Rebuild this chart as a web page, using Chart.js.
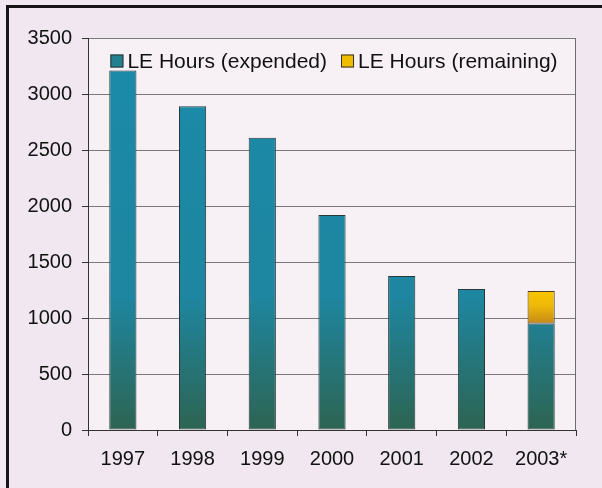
<!DOCTYPE html>
<html>
<head>
<meta charset="utf-8">
<script src="https://cdn.jsdelivr.net/npm/chart.js@4/dist/chart.umd.min.js"></script>
<style>
  html, body { margin: 0; padding: 0; background: #f1e7f1; }
  #wrap { width: 602px; height: 488px; position: relative; }
</style>
</head>
<body>
<div id="wrap"><canvas id="c" width="602" height="488"></canvas></div>
<script>
// ---- data ----
const categories = ['1997', '1998', '1999', '2000', '2001', '2002', '2003*'];
const expended = [3210, 2890, 2610, 1920, 1375, 1260, 950];
const remaining = [null, null, null, null, null, null, 290];
const seriesNames = ['LE Hours (expended)', 'LE Hours (remaining)'];
const yMin = 0, yMax = 3500, yStep = 500;

const FONT = '"Liberation Sans", Arial, sans-serif';

function expendedFill(ctx) {
  const chart = ctx.chart;
  const a = chart.chartArea;
  if (!a) return '#1d88a4';
  const g = chart.ctx.createLinearGradient(0, a.top, 0, a.bottom);
  g.addColorStop(0, '#1a8aaa');
  g.addColorStop(0.66, '#1e86a0');
  g.addColorStop(1, '#2d6452');
  return g;
}

function remainingFill(ctx) {
  const chart = ctx.chart;
  const ys = chart.scales && chart.scales.y;
  const i = ctx.dataIndex;
  if (!chart.chartArea || !ys || i === undefined || remaining[i] == null) return '#f0bc00';
  const top = ys.getPixelForValue(expended[i] + remaining[i]);
  const bot = ys.getPixelForValue(expended[i]);
  const g = chart.ctx.createLinearGradient(0, top, 0, bot);
  g.addColorStop(0, '#f8c600');
  g.addColorStop(0.45, '#eeb808');
  g.addColorStop(1, '#c48a18');
  return g;
}

const bgPlugin = {
  id: 'bg',
  beforeDraw(chart) {
    const c = chart.ctx, a = chart.chartArea;
    c.save();
    c.fillStyle = '#f1e7f1';
    c.fillRect(0, 0, chart.width, chart.height);
    c.fillStyle = '#f7f1f5';
    c.fillRect(a.left, a.top, a.right - a.left, a.bottom - a.top);
    // outer frame (top and left edges visible in the scan)
    c.fillStyle = '#151515';
    c.fillRect(6, 5, chart.width - 6, 3);
    c.fillRect(6, 5, 3, chart.height - 5);
    c.restore();
  },
  beforeDatasetsDraw(chart) {
    const c = chart.ctx, a = chart.chartArea;
    c.save();
    c.strokeStyle = '#6e6e6e';
    c.lineWidth = 1;
    c.beginPath();
    c.moveTo(Math.round(a.right) - 0.5, a.top);
    c.lineTo(Math.round(a.right) - 0.5, a.bottom);
    c.stroke();
    c.restore();
  }
};

const legendPlugin = {
  id: 'insideLegend',
  afterDraw(chart) {
    const c = chart.ctx, a = chart.chartArea;
    const swatch = ['#23808e', '#f0bc00'];
    c.save();
    c.font = '21px ' + FONT;
    c.textBaseline = 'middle';
    const box = 13, gapText = 4, gapItem = 14;
    const widths = seriesNames.map(s => c.measureText(s).width);
    let total = 0;
    widths.forEach((w, k) => { total += box + gapText + w + (k ? gapItem : 0); });
    let x = (a.left + a.right) / 2 - total / 2 + 2;
    const yc = 61;
    seriesNames.forEach((s, k) => {
      c.fillStyle = swatch[k];
      c.fillRect(x, yc - box / 2, box, box);
      c.strokeStyle = '#333';
      c.lineWidth = 1;
      c.strokeRect(x + 0.5, yc - box / 2 + 0.5, box - 1, box - 1);
      c.fillStyle = '#111';
      c.fillText(s, x + box + gapText, yc + 1);
      x += box + gapText + widths[k] + gapItem;
    });
    c.restore();
  }
};

new Chart(document.getElementById('c'), {
  type: 'bar',
  data: {
    labels: categories,
    datasets: [
      {
        label: seriesNames[0],
        data: expended,
        backgroundColor: expendedFill,
        borderColor: '#263838',
        borderWidth: 1,
        borderSkipped: false
      },
      {
        label: seriesNames[1],
        data: remaining,
        backgroundColor: remainingFill,
        borderColor: '#4a3a20',
        borderWidth: 1,
        borderSkipped: false
      }
    ]
  },
  options: {
    responsive: false,
    animation: false,
    devicePixelRatio: 1,
    layout: { padding: { left: 0, right: 26, top: 38, bottom: 0 } },
    datasets: { bar: { barPercentage: 0.39, categoryPercentage: 1.0 } },
    plugins: {
      legend: { display: false },
      tooltip: { enabled: false },
      title: { display: false }
    },
    scales: {
      x: {
        stacked: true,
        offset: true,
        grid: {
          display: true,
          drawOnChartArea: false,
          drawTicks: true,
          tickLength: 6,
          color: '#333',
          offset: true
        },
        border: { display: true, color: '#333', width: 1 },
        ticks: {
          color: '#111',
          font: { family: FONT, size: 20 },
          padding: 11,
          maxRotation: 0,
          autoSkip: false
        },
        afterFit(scale) { scale.height = 58; }
      },
      y: {
        stacked: true,
        min: yMin,
        max: yMax,
        grid: {
          color: '#7a7a7a',
          lineWidth: 1,
          drawTicks: true,
          tickLength: 6,
          tickColor: '#333'
        },
        border: { display: true, color: '#333', width: 1 },
        ticks: {
          stepSize: yStep,
          color: '#111',
          font: { family: FONT, size: 20 },
          padding: 10,
          callback: (v) => String(v)
        },
        afterFit(scale) { scale.width = 88; }
      }
    }
  },
  plugins: [bgPlugin, legendPlugin]
});
</script>
</body>
</html>
